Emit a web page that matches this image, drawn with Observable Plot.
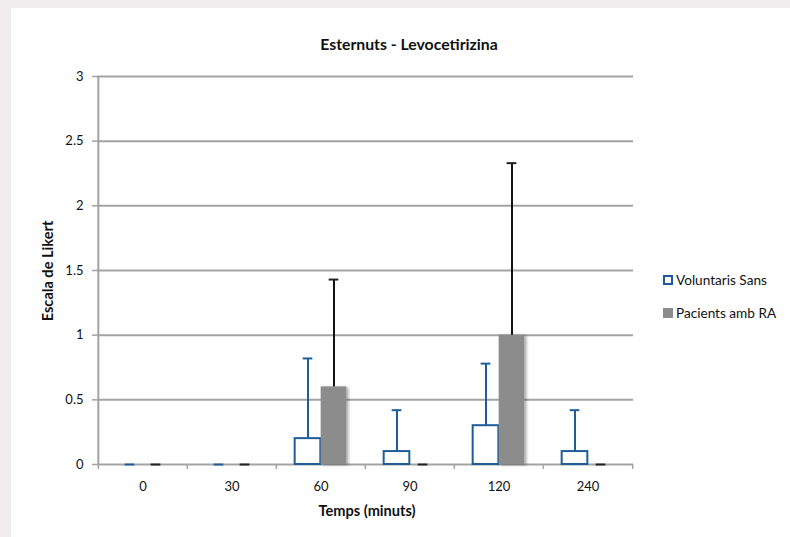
<!DOCTYPE html>
<html>
<head>
<meta charset="utf-8">
<script src="https://cdn.jsdelivr.net/npm/d3@7"></script>
<script src="https://cdn.jsdelivr.net/npm/@observablehq/plot@0.6"></script>
<style>
  html, body { margin: 0; padding: 0; }
  body { width: 790px; height: 537px; overflow: hidden; background: #f1ecee; font-family: Lato, "Open Sans", sans-serif; }
  #page { position: absolute; left: 11px; top: 8px; right: 0; bottom: 0; background: #ffffff; }
  #chart { position: absolute; left: 0; top: 0; }
  .lbl { position: absolute; color: #111; font-weight: bold; white-space: nowrap; }
  #title { left: 0; width: 818px; top: 34px; text-align: center; font-size: 15.8px; }
  #xlabel { left: 267px; width: 200px; top: 502px; text-align: center; font-size: 14.6px; }
  #ylabel { left: 47px; top: 271px; font-size: 14.6px; transform: translate(-50%, -50%) rotate(-90deg); }
  .legend { position: absolute; left: 663px; font-size: 13.6px; color: #111; display: flex; align-items: center; white-space: nowrap; }
  .sw { width: 10px; height: 10px; margin-right: 3px; box-sizing: border-box; }
</style>
</head>
<body>
<div id="page"></div>
<div id="chart"></div>
<div class="lbl" id="title">Esternuts - Levocetirizina</div>
<div class="lbl" id="xlabel">Temps (minuts)</div>
<div class="lbl" id="ylabel">Escala de Likert</div>
<div class="legend" style="top:272px"><div class="sw" style="border:2px solid #1f5d98;background:#fff"></div>Voluntaris Sans</div>
<div class="legend" style="top:305px"><div class="sw" style="background:#8c8c8c"></div>Pacients amb RA</div>
<script>
// Sneezing score (Likert scale) after levocetirizine, by time point
const times = ["0", "30", "60", "90", "120", "240"];
const voluntarisSans = [0, 0, 0.2, 0.1, 0.3, 0.1];
const voluntarisSansSD = [0, 0, 0.62, 0.32, 0.48, 0.32];
const pacientsRA = [0, 0, 0.6, 0, 1.0, 0];
const pacientsRASD = [0, 0, 0.83, 0, 1.33, 0];
const yTicks = [0, 0.5, 1, 1.5, 2, 2.5, 3];

const healthy = times.map((t, i) => ({time: t, v: voluntarisSans[i], sd: voluntarisSansSD[i]}));
const patients = times.map((t, i) => ({time: t, v: pacientsRA[i], sd: pacientsRASD[i]}));

const width = 790, height = 537;
const marginLeft = 97, marginRight = 157, marginTop = 76, marginBottom = 73;
const bw = (width - marginLeft - marginRight) / times.length; // band width
const barW = 26;      // width of each bar in a pair
const capHalf = 5;    // half-width of error bar caps

const blue = "#1f5d98", grey = "#8c8c8c", gridColor = "#a3a3a3";

const chart = Plot.plot({
  width, height, marginLeft, marginRight, marginTop, marginBottom,
  style: {background: "transparent", fontFamily: "Lato, 'Open Sans', sans-serif", fontSize: "13px", color: "#111"},
  x: {domain: times, padding: 0},
  y: {domain: [0, 3]},
  marks: [
    // horizontal gridlines
    Plot.ruleY(yTicks, {stroke: gridColor, strokeWidth: 2}),
    // vertical axis line
    Plot.ruleX([times[0]], {dx: -bw / 2, y1: 0, y2: 3, stroke: gridColor, strokeWidth: 2}),
    Plot.axisY({ticks: yTicks, tickSize: 5, tickPadding: 9, stroke: gridColor, strokeWidth: 1.5, tickFormat: d => String(d), label: null}),
    // category tick marks at band boundaries
    Plot.axisX({ticks: times, tickSize: 5, dx: -bw / 2, text: null, stroke: gridColor, strokeWidth: 1.5, label: null}),
    Plot.axisX({ticks: [times[times.length - 1]], tickSize: 5, dx: bw / 2, text: null, stroke: gridColor, strokeWidth: 1.5, label: null}),
    Plot.axisX({ticks: times, tickSize: 0, tickPadding: 17, label: null}),
    // Voluntaris Sans: hollow blue bars
    Plot.barY(healthy, {x: "time", y: "v", fill: "white", stroke: blue, strokeWidth: 2, insetLeft: bw / 2 - barW, insetRight: bw / 2}),
    // Pacients amb RA: grey bars
    Plot.barY(patients, {x: "time", y: "v", fill: grey, insetLeft: bw / 2, insetRight: bw / 2 - barW}),
    // error bars (upper)
    Plot.ruleX(healthy, {x: "time", y1: "v", y2: d => d.v + d.sd, dx: -barW / 2, stroke: blue, strokeWidth: 2}),
    Plot.tickY(healthy, {x: "time", y: d => d.v + d.sd, dx: -barW / 2, insetLeft: bw / 2 - capHalf, insetRight: bw / 2 - capHalf, stroke: blue, strokeWidth: 2}),
    Plot.ruleX(patients, {x: "time", y1: "v", y2: d => d.v + d.sd, dx: barW / 2, stroke: "#111", strokeWidth: 2}),
    Plot.tickY(patients, {x: "time", y: d => d.v + d.sd, dx: barW / 2, insetLeft: bw / 2 - capHalf, insetRight: bw / 2 - capHalf, stroke: "#222", strokeWidth: 2})
  ]
});

// soft shadow to the right of the grey bars
const svg = d3.select(chart);
svg.append("defs").append("filter").attr("id", "barShadow")
  .attr("x", "-20%").attr("width", "160%")
  .append("feDropShadow").attr("dx", 2).attr("dy", 1).attr("stdDeviation", 1.5)
  .attr("flood-color", "#000").attr("flood-opacity", 0.35);
svg.selectAll('g[aria-label="bar"]').filter((d, i) => i === 1).attr("filter", "url(#barShadow)");

document.getElementById("chart").appendChild(chart);
</script>
</body>
</html>
